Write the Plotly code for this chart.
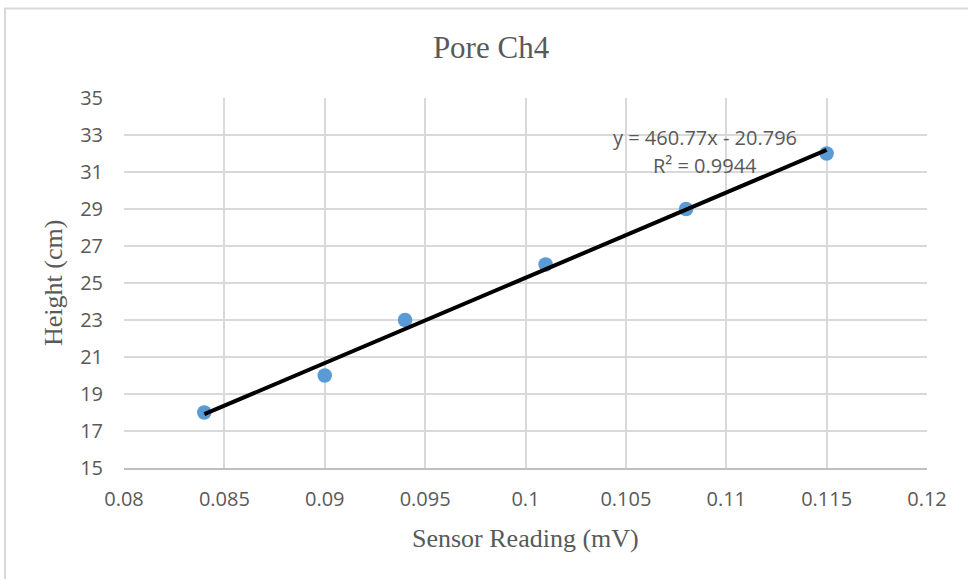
import plotly.graph_objects as go

# Data
sensor_mv = [0.084, 0.09, 0.094, 0.101, 0.108, 0.115]
height_cm = [18, 20, 23, 26, 29, 32]
slope = 460.77
intercept = -20.796
r_squared = 0.9944

x_tick_vals = [0.08, 0.085, 0.09, 0.095, 0.1, 0.105, 0.11, 0.115, 0.12]
x_tick_text = ["0.08", "0.085", "0.09", "0.095", "0.1", "0.105", "0.11", "0.115", "0.12"]
y_tick_vals = [15, 17, 19, 21, 23, 25, 27, 29, 31, 33, 35]
y_tick_text = ["15", "17", "19", "21", "23", "25", "27", "29", "31", "33", "35"]

trend_x = [min(sensor_mv), max(sensor_mv)]
trend_y = [slope * v + intercept for v in trend_x]

W, H = 968, 579
L, R, T, B = 124, 41, 98, 111
pw, ph = W - L - R, H - T - B

def px_to_paper_x(px):
    return (px - L) / pw

def px_to_paper_y(py):
    return (H - B - py) / ph

gray_text = "#595959"
serif = "Liberation Serif, Times New Roman, serif"
sans = "Open Sans, Liberation Sans, sans-serif"

fig = go.Figure()
fig.add_trace(go.Scatter(
    x=sensor_mv, y=height_cm, mode="markers",
    marker=dict(size=14.5, color="#5B9BD5", line=dict(width=0)),
    showlegend=False, hoverinfo="skip",
))
fig.add_trace(go.Scatter(
    x=trend_x, y=trend_y, mode="lines",
    line=dict(color="#000000", width=4),
    showlegend=False, hoverinfo="skip",
))

fig.update_layout(
    width=W, height=H,
    margin=dict(l=L, r=R, t=T, b=B),
    paper_bgcolor="white", plot_bgcolor="white",
    title=dict(text="Pore Ch4", font=dict(family=serif, size=31, color=gray_text),
               x=491 / W, xref="container", xanchor="center",
               y=1 - 47 / H, yref="container", yanchor="middle"),
    xaxis=dict(
        range=[0.08, 0.12], tickvals=x_tick_vals, ticktext=x_tick_text,
        showgrid=True, gridcolor="#d9d9d9", gridwidth=1.5,
        showline=True, linecolor="#bfbfbf", linewidth=1.5,
        zeroline=False, ticks="", ticklabelstandoff=12,
        tickfont=dict(family=sans, size=20, color=gray_text),
    ),
    yaxis=dict(
        range=[15, 35], tickvals=y_tick_vals, ticktext=y_tick_text,
        showgrid=True, gridcolor="#d9d9d9", gridwidth=1.5,
        showline=False, zeroline=False, ticks="", ticklabelstandoff=20,
        tickfont=dict(family=sans, size=20, color=gray_text),
    ),
    shapes=[dict(
        type="rect", xref="paper", yref="paper",
        x0=px_to_paper_x(5), x1=px_to_paper_x(1000),
        y0=px_to_paper_y(620), y1=px_to_paper_y(8.5),
        line=dict(color="#d9d9d9", width=2), fillcolor="rgba(0,0,0,0)", layer="below",
    )],
    annotations=[
        dict(text="Sensor Reading (mV)", xref="paper", yref="paper",
             x=px_to_paper_x(525), y=px_to_paper_y(538), xanchor="center", yanchor="middle",
             showarrow=False, font=dict(family=serif, size=26, color=gray_text)),
        dict(text="Height (cm)", xref="paper", yref="paper", textangle=-90,
             x=px_to_paper_x(53), y=px_to_paper_y(283), xanchor="center", yanchor="middle",
             showarrow=False, font=dict(family=serif, size=26, color=gray_text)),
        dict(text=f"y = {slope}x - {abs(intercept)}", xref="paper", yref="paper",
             x=px_to_paper_x(705), y=px_to_paper_y(137), xanchor="center", yanchor="middle",
             showarrow=False, font=dict(family=sans, size=20, color=gray_text)),
        dict(text=f"R² = {r_squared}", xref="paper", yref="paper",
             x=px_to_paper_x(705), y=px_to_paper_y(165), xanchor="center", yanchor="middle",
             showarrow=False, font=dict(family=sans, size=20, color=gray_text)),
    ],
)

fig.write_html("out.html")
